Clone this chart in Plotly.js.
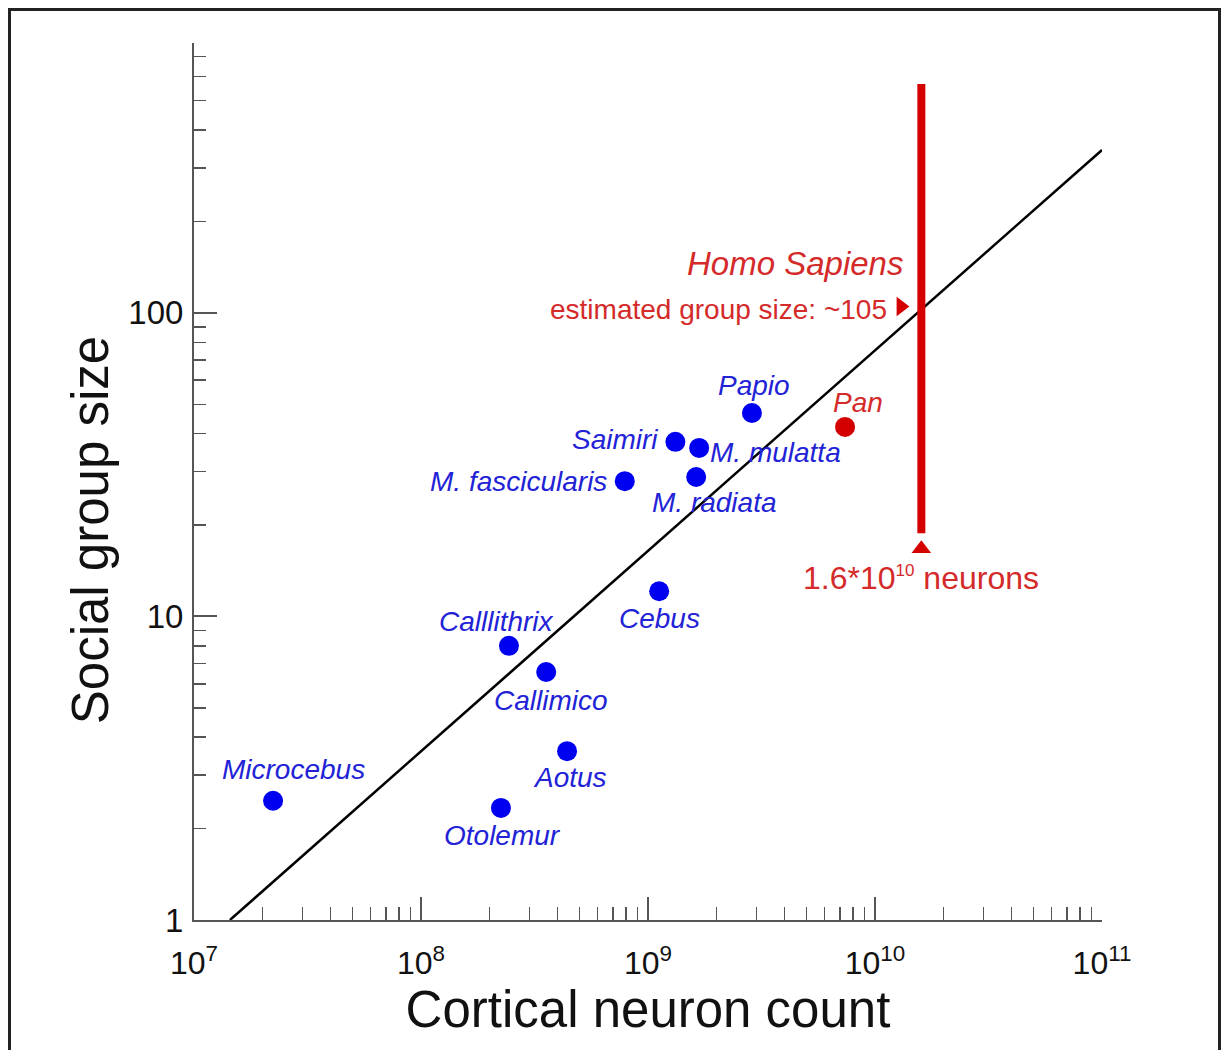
<!DOCTYPE html>
<html><head><meta charset="utf-8">
<script src="https://cdn.plot.ly/plotly-3.0.1.min.js"></script>
<style>
html,body{margin:0;padding:0;background:#fff;}
#wrap{position:relative;width:1225px;height:1050px;overflow:hidden;}
#chart{width:1225px;height:1050px;}
#frame{position:absolute;left:8px;top:8px;width:1213px;height:1060px;border:3px solid #222;box-sizing:border-box;pointer-events:none;}
</style></head>
<body><div id="wrap"><div id="chart"></div><div id="frame"></div></div>
<script>
// ---- data ----
const species   = ["Microcebus","Otolemur","Aotus","Callimico","Calllithrix","Cebus","M. fascicularis","Saimiri","M. mulatta","M. radiata","Papio"];
const neurons   = [2.23e7, 2.25e8, 4.4e8, 3.56e8, 2.44e8, 1.12e9, 7.9e8, 1.32e9, 1.68e9, 1.63e9, 2.87e9];
const groupSize = [2.47, 2.34, 3.6, 6.56, 8.0, 12.1, 27.9, 37.6, 35.9, 28.8, 46.8];
const panName    = ["Pan"];
const panNeurons = [7.38e9];
const panGroup   = [42.1];
const fitNeurons = [1.44e7, 1e11];
const fitGroup   = [1, 344];
const homoNeurons   = 1.6e10;
const homoBarGroup  = [18.8, 568];
const homoEstimate  = 105;
const homoMarkGroup = 16.7;
const pointerNeurons = 1.3e10;
const xTickVals = [1e7, 1e8, 1e9, 1e10, 1e11];
const xTickText = ["10<sup>7</sup>", "10<sup>8</sup>", "10<sup>9</sup>", "10<sup>10</sup>", "10<sup>11</sup>"];
const yTickVals = [1, 10, 100];
const yTickText = ["1", "10", "100"];

// ---- label placement (pixel offsets from each point) ----
const labelOffsets = {
  "Microcebus":[20,31,"center"], "Otolemur":[2,-28,"center"], "Aotus":[3,-26,"center"],
  "Callimico":[5,-28,"center"], "Calllithrix":[-12,24,"center"], "Cebus":[0,-27,"center"],
  "M. fascicularis":[-16,0,"right"], "Saimiri":[-15,2,"right"], "M. mulatta":[9,-5,"left"],
  "M. radiata":[18,-26,"center"], "Papio":[2,27,"center"]
};

const FONT = "Liberation Sans, Arial, sans-serif";
const BLUE = "#0000f0", BLUE_TXT = "#2222d6", RED = "#d40000", RED_TXT = "#d42a2a";
const AX = "#555555";

const traces = [
  {x: fitNeurons, y: fitGroup, mode: "lines", line: {color: "#000", width: 2.5}, hoverinfo: "skip"},
  {x: neurons, y: groupSize, mode: "markers", marker: {color: BLUE, size: 20}, text: species},
  {x: panNeurons, y: panGroup, mode: "markers", marker: {color: RED, size: 20}, text: panName},
  {x: [homoNeurons, homoNeurons], y: homoBarGroup, mode: "lines", line: {color: RED, width: 8}},
  {x: [homoNeurons], y: [homoMarkGroup], mode: "markers", marker: {symbol: "triangle-up", color: RED, size: 17}},
  {x: [pointerNeurons], y: [homoEstimate], mode: "markers", marker: {symbol: "triangle-right", color: RED, size: 17}}
];

const annotations = species.map((s, i) => {
  const o = labelOffsets[s];
  return {x: Math.log10(neurons[i]), y: Math.log10(groupSize[i]), text: "<i>" + s + "</i>",
    showarrow: false, xshift: o[0], yshift: o[1], xanchor: o[2], yanchor: "middle",
    font: {family: FONT, size: 28, color: BLUE_TXT}};
});
annotations.push({x: Math.log10(panNeurons[0]), y: Math.log10(panGroup[0]), text: "<i>" + panName[0] + "</i>",
  showarrow: false, xshift: 13, yshift: 24, font: {family: FONT, size: 28, color: RED_TXT}});
annotations.push({x: Math.log10(homoNeurons), y: Math.log10(homoEstimate), text: "<i>Homo Sapiens</i>",
  showarrow: false, xanchor: "right", xshift: -16, yshift: 43, font: {family: FONT, size: 33, color: RED_TXT}});
annotations.push({x: Math.log10(pointerNeurons), y: Math.log10(homoEstimate), text: "estimated group size: ~" + homoEstimate,
  showarrow: false, xanchor: "right", xshift: -12, yshift: -3, font: {family: FONT, size: 28, color: RED_TXT}});
annotations.push({x: Math.log10(homoNeurons), y: Math.log10(homoMarkGroup), text: "1.6*10<sup><span style=\"font-size:17px\">10</span></sup> neurons",
  showarrow: false, xshift: 0, yshift: -29, font: {family: FONT, size: 32, color: RED_TXT}});
annotations.push({xref: "paper", yref: "paper", x: -0.114, y: 0.445, xanchor: "center", yanchor: "middle",
  text: "Social group size", textangle: -90,
  showarrow: false, font: {family: FONT, size: 51, color: "#111"}});

const layout = {
  width: 1225, height: 1050,
  margin: {l: 194, r: 123, t: 43, b: 130},
  paper_bgcolor: "#fff", plot_bgcolor: "#fff",
  showlegend: false,
  font: {family: FONT, color: "#111"},
  xaxis: {
    type: "log", range: [7, 11], tickmode: "array", tickvals: xTickVals, ticktext: xTickText,
    showgrid: false, zeroline: false, showline: true, linecolor: AX, linewidth: 2,
    ticks: "inside", ticklen: 23, tickwidth: 2, tickcolor: AX, ticklabelstandoff: 14,
    minor: {ticks: "inside", ticklen: 13, tickwidth: 1.5, tickcolor: AX, dtick: "D1", showgrid: false},
    tickfont: {family: FONT, size: 32, color: "#111"},
    title: {text: "Cortical neuron count", font: {family: FONT, size: 51, color: "#111"}, standoff: 6}
  },
  yaxis: {
    type: "log", range: [0, 2.889], tickmode: "array", tickvals: yTickVals, ticktext: yTickText,
    showgrid: false, zeroline: false, showline: true, linecolor: AX, linewidth: 2,
    ticks: "inside", ticklen: 23, tickwidth: 2, tickcolor: AX, ticklabelstandoff: 2,
    minor: {ticks: "inside", ticklen: 12, tickwidth: 1.5, tickcolor: AX, dtick: "D1", showgrid: false},
    tickfont: {family: FONT, size: 33, color: "#111"}
  },
  annotations: annotations
};

Plotly.newPlot("chart", traces, layout, {displayModeBar: false, staticPlot: true});
</script>
</body></html>
